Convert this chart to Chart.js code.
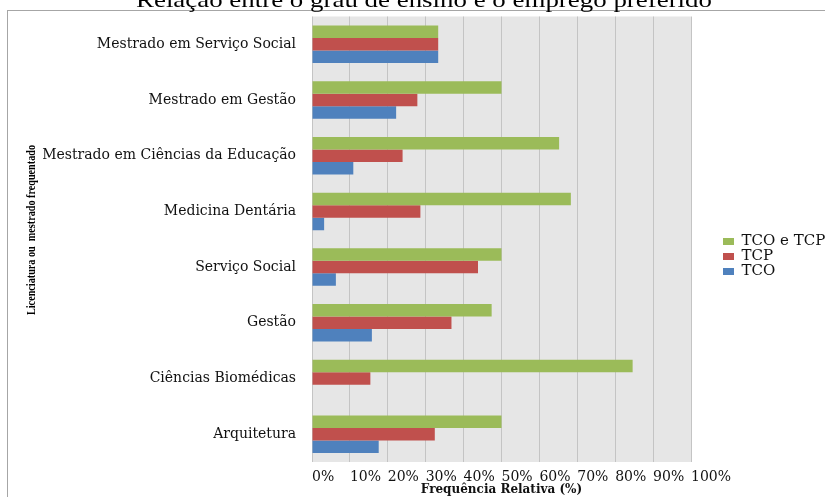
<!DOCTYPE html>
<html>
<head>
<meta charset="utf-8">
<script src="https://cdn.jsdelivr.net/npm/chart.js@4.4.1/dist/chart.umd.min.js"></script>
<style>
    html, body { margin: 0; padding: 0; background: #fff; }
    #wrap { position: relative; width: 825px; height: 497px; overflow: hidden; }
    #frame { position: absolute; left: 7px; top: 10px; width: 900px; height: 600px;
             border-left: 1px solid #a6a6a6; border-top: 1px solid #a6a6a6; }
    #chart { position: absolute; left: 0; top: 0; }
</style>
</head>
<body>
<div id="wrap">
    <div id="frame"></div>
    <canvas id="chart" width="825" height="497"></canvas>
</div>
<script>
// Chart texts
const chartTitle = 'Relação entre o grau de ensino e o emprego preferido';
const yAxisTitle = 'Licenciatura ou  mestrado frequentado';
const xAxisTitle = 'Frequência Relativa (%)';

// Categories (top to bottom)
const categories = [
    'Mestrado em Serviço Social',
    'Mestrado em Gestão',
    'Mestrado em Ciências da Educação',
    'Medicina Dentária',
    'Serviço Social',
    'Gestão',
    'Ciências Biomédicas',
    'Arquitetura'
];

// Series (percent)
const seriesNames = ['TCO e TCP', 'TCP', 'TCO'];
const tcoETcp = [33.3, 50, 65.2, 68.3, 50, 47.4, 84.6, 50];
const tcp     = [33.3, 27.8, 23.9, 28.6, 43.8, 36.8, 15.4, 32.4];
const tco     = [33.3, 22.2, 10.9, 3.2, 6.3, 15.8, 0, 17.6];

// X axis tick values
const xTicks = [0, 10, 20, 30, 40, 50, 60, 70, 80, 90, 100];

const seriesColors = ['#9bbb59', '#c0504d', '#4f81bd'];

// Where the plot sits in the original picture
const plotBox = { top: 16.5, right: 691, bottom: 462 };
let xAxisHeight = 35;

Chart.defaults.font.family = "'DejaVu Serif', serif";
Chart.defaults.color = '#111';

// Plot area fill
const plotBackground = {
    id: 'plotBackground',
    beforeDraw(chart) {
        const {ctx, chartArea: a} = chart;
        ctx.save();
        ctx.fillStyle = '#e6e6e6';
        ctx.fillRect(a.left, a.top, a.right - a.left, a.bottom - a.top);
        ctx.restore();
    }
};

// Move legend next to the plot like the original
const legendPlace = {
    id: 'legendPlace',
    afterLayout(chart) {
        const lg = chart.legend;
        if (!lg) return;
        const dx = 723 - lg.left;
        lg.left += dx;
        lg.right += dx;
        const dy = 234 - lg.top;
        lg.top += dy;
        lg.bottom += dy;
    }
};

// Chart title (cut at the top) and the narrow rotated y title
function drawStretched(ctx, text, x, y, targetWidth, rotate) {
    ctx.save();
    ctx.translate(x, y);
    if (rotate) ctx.rotate(-Math.PI / 2);
    const w = ctx.measureText(text).width;
    ctx.scale(targetWidth / w, 1);
    ctx.fillText(text, 0, 0);
    ctx.restore();
}

const extraTitles = {
    id: 'extraTitles',
    afterDraw(chart) {
        const ctx = chart.ctx;
        ctx.save();
        ctx.fillStyle = '#000';
        ctx.textAlign = 'center';

        ctx.font = "22px 'Liberation Serif', serif";
        ctx.textBaseline = 'alphabetic';
        drawStretched(ctx, chartTitle, 424, 7, 576, false);

        ctx.font = "bold 13px 'Liberation Serif', serif";
        ctx.textBaseline = 'middle';
        drawStretched(ctx, yAxisTitle, 32, 230, 170, true);
        ctx.restore();
    }
};

const chart = new Chart(document.getElementById('chart'), {
    type: 'bar',
    data: {
        labels: categories,
        datasets: [
            { label: seriesNames[0], data: tcoETcp, backgroundColor: seriesColors[0] },
            { label: seriesNames[1], data: tcp, backgroundColor: seriesColors[1] },
            { label: seriesNames[2], data: tco, backgroundColor: seriesColors[2] }
        ]
    },
    options: {
        indexAxis: 'y',
        responsive: false,
        animation: false,
        datasets: {
            bar: {
                barPercentage: 1,
                categoryPercentage: 0.673,
                borderWidth: 0
            }
        },
        layout: {
            padding: { left: 0, top: plotBox.top, right: 0, bottom: 0 }
        },
        scales: {
            x: {
                min: 0,
                max: 100,
                afterBuildTicks: scale => {
                    scale.ticks = xTicks.map(v => ({ value: v }));
                },
                afterFit: scale => {
                    scale.height = xAxisHeight;
                    scale.paddingLeft = 0;
                    scale.paddingRight = 0;
                },
                ticks: {
                    align: 'start',
                    autoSkip: false,
                    maxRotation: 0,
                    minRotation: 0,
                    padding: 7,
                    color: '#111',
                    font: { size: 14 },
                    callback: v => v + '%'
                },
                grid: {
                    color: '#c4c4c4',
                    drawTicks: false
                },
                border: { display: false },
                title: {
                    display: true,
                    text: xAxisTitle,
                    color: '#111',
                    font: { size: 12, weight: 'bold' },
                    padding: { top: 0, bottom: 0 }
                }
            },
            y: {
                afterFit: scale => {
                    scale.width = 312;
                    scale.paddingTop = 0;
                    scale.paddingBottom = 0;
                },
                ticks: {
                    padding: 16,
                    color: '#111',
                    font: { size: 14 }
                },
                grid: { display: false, drawTicks: false },
                border: { display: false }
            }
        },
        plugins: {
            legend: {
                position: 'right',
                align: 'start',
                labels: {
                    boxWidth: 11,
                    boxHeight: 7,
                    padding: 0,
                    color: '#111',
                    font: { size: 15 }
                }
            },
            tooltip: { enabled: false }
        }
    },
    plugins: [plotBackground, legendPlace, extraTitles]
});

// Fit the plot edges to where the original puts them
for (let i = 0; i < 3; i++) {
    const a = chart.chartArea;
    const pad = chart.options.layout.padding;
    pad.right += a.right - plotBox.right;
    pad.top += plotBox.top - a.top;
    xAxisHeight += a.bottom - plotBox.bottom;
    chart.update();
}
</script>
</body>
</html>
